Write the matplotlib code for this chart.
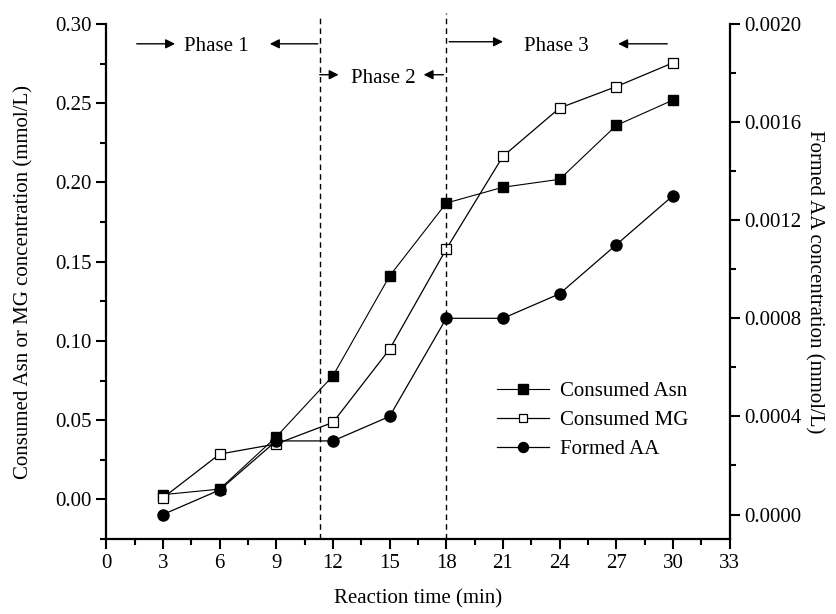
import numpy as np
import matplotlib
matplotlib.use("Agg")
import matplotlib.pyplot as plt
from matplotlib.ticker import MultipleLocator, FormatStrFormatter

plt.rcParams['font.family'] = ['Liberation Serif', 'DejaVu Serif']
plt.rcParams['mathtext.fontset'] = 'stix'

# data
time_min = [3, 6, 9, 12, 15, 18, 21, 24, 27, 30]
asn = [0.003, 0.0065, 0.0395, 0.078, 0.141, 0.187, 0.197, 0.202, 0.236, 0.252]
mg = [0.001, 0.0286, 0.035, 0.0486, 0.0948, 0.158, 0.2165, 0.247, 0.2605, 0.2755]
aa = [0.0, 0.0001, 0.0003, 0.0003, 0.0004, 0.0008, 0.0008, 0.0009, 0.0011, 0.0013]

phase_bounds = [11.3, 18.0]
fs = 15

fig = plt.figure(figsize=(8.37, 6.14), dpi=100)
ax = fig.add_axes([0.127, 0.1221, 0.7447, 0.8388])
ax2 = ax.twinx()

l1, = ax.plot(time_min, asn, color='black', lw=0.8, marker='s', ms=7.5,
              mfc='black', mec='black', label='Consumed Asn')
l2, = ax.plot(time_min, mg, color='black', lw=0.9, marker='s', ms=6.5,
              mfc='white', mec='black', mew=0.9, label='Consumed MG')
l3, = ax2.plot(time_min, aa, color='black', lw=0.9, marker='o', ms=8,
               mfc='black', mec='black', label='Formed AA')

ax.set_xlim(0, 33)
ax.set_ylim(-0.025, 0.30)
ax2.set_ylim(-0.0001, 0.0020)

ax.xaxis.set_major_locator(MultipleLocator(3))
ax.xaxis.set_minor_locator(MultipleLocator(1.5))
ax.yaxis.set_major_locator(MultipleLocator(0.05))
ax.yaxis.set_minor_locator(MultipleLocator(0.025))
ax.yaxis.set_major_formatter(FormatStrFormatter('%.2f'))
ax2.yaxis.set_major_locator(MultipleLocator(0.0004))
ax2.yaxis.set_minor_locator(MultipleLocator(0.0002))
ax2.yaxis.set_major_formatter(FormatStrFormatter('%.4f'))

for a in (ax, ax2):
    a.spines['top'].set_visible(False)
    for s in a.spines.values():
        s.set_linewidth(1.6)
    a.tick_params(which='major', direction='out', length=7, width=1.5, labelsize=fs)
    a.tick_params(which='minor', direction='out', length=4, width=1.5)
ax.spines['right'].set_visible(False)
ax2.spines['left'].set_visible(False)
ax2.spines['bottom'].set_visible(False)

ax.set_xlabel('Reaction time (min)', fontsize=fs, labelpad=12)
ax.set_ylabel('Consumed Asn or MG concentration (mmol/L)', fontsize=fs, labelpad=16)
ax2.set_ylabel('Formed AA concentration (mmol/L)', fontsize=fs, rotation=270, labelpad=16)

# phase boundaries
ax.plot([phase_bounds[0]] * 2, [-0.025, 0.304], ls=(0, (4, 3)), color='black', lw=1, clip_on=False)
ax.plot([phase_bounds[1]] * 2, [-0.025, 0.307], ls=(0, (4, 3)), color='black', lw=1, clip_on=False)

arrow = dict(arrowstyle='-|>', color='black', lw=1, mutation_scale=14, shrinkA=0, shrinkB=0)
# phase 1
ax.annotate('', xy=(3.64, 0.2875), xytext=(1.61, 0.2875), arrowprops=arrow)
ax.annotate('', xy=(8.66, 0.2875), xytext=(11.2, 0.2875), arrowprops=arrow)
ax.text(5.83, 0.2855, 'Phase 1', fontsize=fs, ha='center', va='center')
# phase 2
ax.annotate('', xy=(12.3, 0.268), xytext=(11.3, 0.268), arrowprops=arrow)
ax.annotate('', xy=(16.8, 0.268), xytext=(17.85, 0.268), arrowprops=arrow)
ax.text(14.65, 0.2655, 'Phase 2', fontsize=fs, ha='center', va='center')
# phase 3
ax.annotate('', xy=(21.0, 0.2888), xytext=(18.15, 0.2888), arrowprops=arrow)
ax.annotate('', xy=(27.1, 0.2875), xytext=(29.7, 0.2875), arrowprops=arrow)
ax.text(23.83, 0.2855, 'Phase 3', fontsize=fs, ha='center', va='center')

ax.legend(handles=[l1, l2, l3], loc='upper left', bbox_to_anchor=(0.597, 0.342),
          frameon=False, fontsize=fs, handlelength=2.5, handletextpad=0.5,
          labelspacing=0.45, markerscale=0.9)

fig.savefig('out.png', dpi=100)
